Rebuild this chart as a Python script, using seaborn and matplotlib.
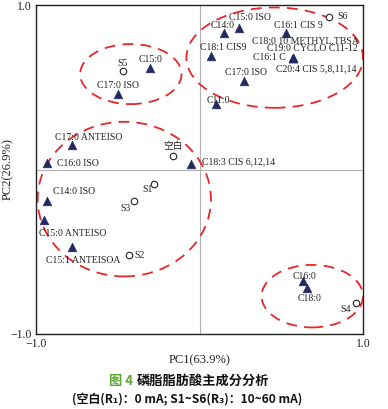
import matplotlib
matplotlib.use('Agg')
import matplotlib.pyplot as plt
from matplotlib.patches import Ellipse
import seaborn as sns
import pandas as pd

# fatty acid loadings (triangles)
acid_names = ['C15:0', 'C17:0 ISO', 'C17:0 ANTEISO', 'C16:0 ISO', 'C18:3 CIS 6,12,14',
              'C15:0 ISO', 'C14:0', 'C16:1 CIS 9', 'C18:1 CIS9', 'C18:0 10 METHYL,TBSA',
              'C19:0 CYCLO C11-12', 'C16:1 C', 'C20:4 CIS 5,8,11,14', 'C17:0 ISO', 'C11:0',
              'C14:0 ISO', 'C15:0 ANTEISO', 'C15:1 ANTEISOA', 'C16:0', 'C18:0']
acid_pc1 = [-0.30, -0.50, -0.78, -0.93, -0.05, 0.24, 0.15, 0.53, 0.07, 0.57,
            0.57, 0.57, 0.57, 0.27, 0.10, -0.93, -0.95, -0.78, 0.63, 0.66]
acid_pc2 = [0.62, 0.46, 0.15, 0.04, 0.035, 0.86, 0.83, 0.83, 0.69, 0.68,
            0.68, 0.68, 0.68, 0.54, 0.40, -0.19, -0.31, -0.47, -0.68, -0.72]

# sample scores (open circles)
sample_names = ['S5', '空白', 'S6', 'S1', 'S3', 'S2', 'S4']
sample_pc1 = [-0.47, -0.16, 0.79, -0.28, -0.40, -0.43, 0.96]
sample_pc2 = [0.60, 0.08, 0.93, -0.09, -0.19, -0.52, -0.81]

# label offsets in pixels (dx, dy, ha)
acid_offsets = [(0, 8, 'center'), (0, 8, 'center'), (17, 7, 'center'), (10, -1, 'left'),
                (11, 2, 'left'), (11, 11, 'center'), (-1, 7, 'center'), (12, 7, 'center'),
                (-11, 8, 'left'), (-41, 17, 'left'), (-26, 9, 'left'), (-40, 0, 'left'),
                (-17, -11, 'left'), (2, 8, 'center'), (3, 3, 'center'),
                (6, 9, 'left'), (-5, -13, 'left'), (-26, -14, 'left'), (2, 5, 'center'),
                (2, -11, 'center')]
sample_offsets = [(0, 7, 'center'), (0, 10, 'center'), (9, 0, 'left'), (-11, -5, 'left'),
                  (-14, -8, 'left'), (5, 0, 'left'), (-16, -7, 'left')]

# cluster ellipses: center x, center y, width, height
ell_cx = [-0.42, 0.46, -0.46, 0.69]
ell_cy = [0.58, 0.68, -0.18, -0.77]
ell_w = [0.62, 1.08, 1.06, 0.62]
ell_h = [0.365, 0.61, 0.94, 0.38]

acids = pd.DataFrame({'name': acid_names, 'PC1': acid_pc1, 'PC2': acid_pc2})
samples = pd.DataFrame({'name': sample_names, 'PC1': sample_pc1, 'PC2': sample_pc2})

sns.set_style('white')
plt.rcParams['font.family'] = ['Liberation Serif', 'Noto Sans CJK SC']

fig = plt.figure(figsize=(3.88, 4.09), dpi=100)
ax = fig.add_axes([36 / 388, 1 - 334 / 409, 327 / 388, 329 / 409])

ax.axhline(0, color='#b0b0b0', lw=0.8, zorder=0)
ax.axvline(0, color='#b0b0b0', lw=0.8, zorder=0)

sns.scatterplot(data=acids, x='PC1', y='PC2', marker='^', s=38, color='#232a63',
                edgecolor='#232a63', ax=ax, zorder=3)
sns.scatterplot(data=samples, x='PC1', y='PC2', marker='o', s=22, facecolor='white',
                edgecolor='#222222', linewidth=0.8, ax=ax, zorder=3)

for (n, x, y), (dx, dy, ha) in zip(acids[['name', 'PC1', 'PC2']].values, acid_offsets):
    ax.annotate(n, (x, y), xytext=(dx, dy), textcoords='offset pixels', ha=ha, va='center',
                fontsize=7, color='#222222', zorder=4)
for (n, x, y), (dx, dy, ha) in zip(samples[['name', 'PC1', 'PC2']].values, sample_offsets):
    ax.annotate(n, (x, y), xytext=(dx, dy), textcoords='offset pixels', ha=ha, va='center',
                fontsize=7, color='#222222', zorder=4)

for cx, cy, w, h in zip(ell_cx, ell_cy, ell_w, ell_h):
    ax.add_patch(Ellipse((cx, cy), w, h, fill=False, edgecolor='#e8262a', lw=1.3,
                         linestyle=(0, (6, 4)), zorder=2))

ax.set_xlim(-1, 1)
ax.set_ylim(-1, 1)
ax.set_xticks([-1, -0.5, 0, 0.5, 1])
ax.set_yticks([-1, -0.5, 0, 0.5, 1])
ax.set_xticklabels(['\u22121.0', '', '', '', '1.0'])
ax.set_yticklabels(['\u22121.0', '', '', '', '1.0'])
ax.tick_params(direction='in', length=4, width=0.8, labelsize=8.5, colors='#222222', pad=3)
for s in ax.spines.values():
    s.set_color('#222222')
    s.set_linewidth(1.0)
ax.set_xlabel('PC1(63.9%)', fontsize=9, color='#222222', labelpad=3)
ax.set_ylabel('PC2(26.9%)', fontsize=9, color='#222222')
ax.yaxis.set_label_coords(-0.067, 0.5)

cap = ['Noto Sans CJK SC', 'DejaVu Sans']
fig.text(109 / 388, 1 - 381 / 409, '图 4', color='#5aa832', fontsize=9.5, fontweight='bold',
         family=cap, ha='left', va='center')
fig.text(137 / 388, 1 - 381 / 409, '磷脂脂肪酸主成分分析', color='#111111', fontsize=9.5,
         fontweight='bold', family=cap, ha='left', va='center')
fig.text(187 / 388, 1 - 400 / 409, '(空白(R\u2081)：0 mA; S1~S6(R\u2083)：10~60 mA)',
         color='#111111', fontsize=8.6, fontweight='bold', family=cap, ha='center', va='center')

fig.savefig('out.png', dpi=100)
